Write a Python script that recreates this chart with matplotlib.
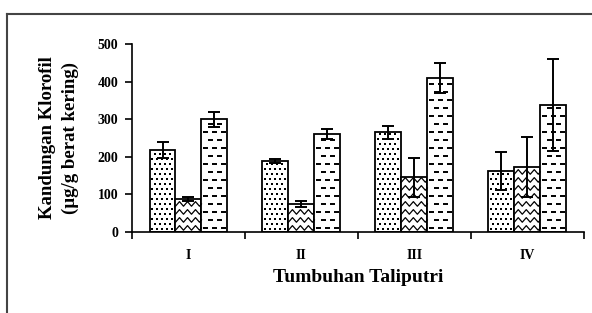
import matplotlib
matplotlib.use("Agg")
import matplotlib.pyplot as plt
import numpy as np
from matplotlib.lines import Line2D

categories = ["I", "II", "III", "IV"]
dot_vals = [218, 189, 265, 163]
dot_err = [21, 5, 17, 51]
zig_vals = [87, 74, 145, 172]
zig_err = [5, 8, 52, 80]
dash_vals = [300, 261, 410, 338]
dash_err = [20, 13, 40, 123]

plt.rcParams["font.family"] = ["Liberation Serif", "DejaVu Serif"]
plt.rcParams["font.weight"] = "bold"

fig = plt.figure(figsize=(5.92, 3.13), dpi=100)
ax = fig.add_axes([0.223, 0.259, 0.763, 0.600])
ax.set_xlim(-0.5, 3.5)
ax.set_ylim(0, 500)

# size of one pixel in data units (used for the bar textures)
px_x = 4.0 / (0.763 * 592)
px_y = 500.0 / (0.600 * 313)

w = 0.23
x = np.arange(len(categories))


def texture_dots(bar):
    x0, y0 = bar.get_x(), bar.get_y()
    bw, bh = bar.get_width(), bar.get_height()
    xs, ys = [], []
    step = 5
    for j, yy in enumerate(np.arange(y0 + 2.5 * px_y, y0 + bh - 1.5 * px_y, step * px_y)):
        off = (step / 2) * px_x if j % 2 else 0
        for xx in np.arange(x0 + 2.5 * px_x + off, x0 + bw - 1.5 * px_x, step * px_x):
            xs.append(xx)
            ys.append(yy)
    ax.scatter(xs, ys, s=0.7, c="black", marker="s", linewidths=0, zorder=3)


def texture_zigzag(bar):
    x0, y0 = bar.get_x(), bar.get_y()
    bw, bh = bar.get_width(), bar.get_height()
    half = 4 * px_x
    amp = 2.3 * px_y
    xx = np.append(np.arange(x0, x0 + bw, half), x0 + bw)
    for yy in np.arange(y0 + 4 * px_y, y0 + bh - amp, 8 * px_y):
        zz = yy + np.where(np.arange(len(xx)) % 2 == 0, -amp, amp)
        # last segment stops at the bar edge
        frac = (xx[-1] - xx[-2]) / half
        zz[-1] = zz[-2] + (zz[-1] - zz[-2]) * frac
        ax.add_line(Line2D(xx, zz, color="black", lw=0.9, zorder=3))


def texture_dashes(bar):
    x0, y0 = bar.get_x(), bar.get_y()
    bw, bh = bar.get_width(), bar.get_height()
    for j, yy in enumerate(np.arange(y0 + 4 * px_y, y0 + bh - 2 * px_y, 8 * px_y)):
        off = 4.5 * px_x if j % 2 else 0
        for xx in np.arange(x0 + 2 * px_x + off, x0 + bw - 3 * px_x, 9 * px_x):
            x1 = min(xx + 5 * px_x, x0 + bw - 1 * px_x)
            ax.add_line(Line2D([xx, x1], [yy, yy], color="black", lw=1.4,
                               solid_capstyle="butt", zorder=3))


series = [(dot_vals, dot_err, -w, texture_dots),
          (zig_vals, zig_err, 0, texture_zigzag),
          (dash_vals, dash_err, w, texture_dashes)]
for vals, errs, off, tex in series:
    bars = ax.bar(x + off, vals, w, color="white", edgecolor="black",
                  linewidth=1.3, zorder=2)
    for b in bars:
        tex(b)
    ax.errorbar(x + off, vals, yerr=errs, fmt="none", ecolor="black",
                elinewidth=1.4, capsize=4.5, capthick=1.4, zorder=5)

for s in ["top", "right"]:
    ax.spines[s].set_visible(False)
ax.spines["left"].set_linewidth(1.2)
ax.spines["bottom"].set_linewidth(1.2)

ax.set_yticks([0, 100, 200, 300, 400, 500])
ax.tick_params(axis="y", direction="out", length=5, width=1.2, labelsize=10, pad=5)
ax.set_xticks(x)
ax.set_xticklabels(categories)
ax.set_xticks(np.arange(-0.5, 4.0, 1.0), minor=True)
ax.tick_params(axis="x", which="major", length=0, labelsize=10, pad=12)
ax.tick_params(axis="x", which="minor", direction="out", length=5, width=1.2)
for lbl in ax.get_yticklabels() + ax.get_xticklabels():
    lbl.set_fontweight("bold")

ax.set_xlabel("Tumbuhan Taliputri", fontsize=14, fontweight="bold", labelpad=5)
ax.set_ylabel("Kandungan Klorofil\n(µg/g berat kering)", fontsize=13.5,
              fontweight="bold", labelpad=13, linespacing=1.45)

# outer frame (left and top edges visible)
fig.add_artist(Line2D([6.5 / 592, 6.5 / 592], [0, 1 - 13.5 / 313],
                      transform=fig.transFigure, color="#444444", lw=1.5))
fig.add_artist(Line2D([6.5 / 592, 1], [1 - 13.5 / 313, 1 - 13.5 / 313],
                      transform=fig.transFigure, color="#444444", lw=1.5))

fig.savefig("out.png", dpi=100)
